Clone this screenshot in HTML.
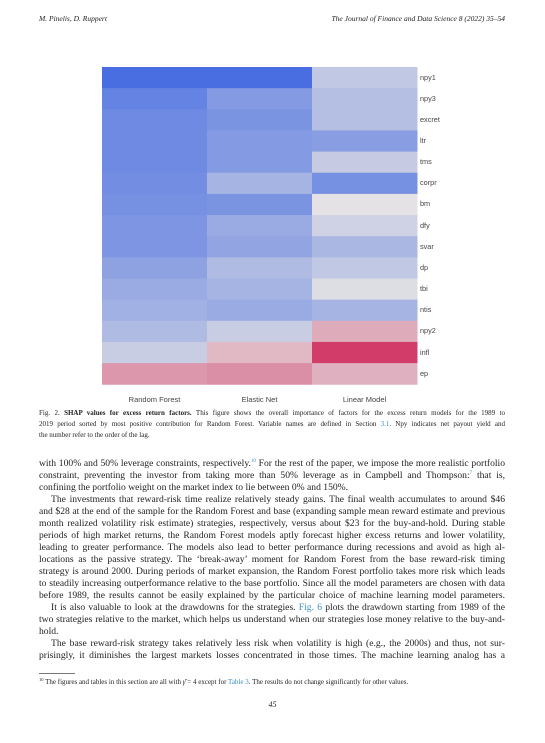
<!DOCTYPE html>
<html><head><meta charset="utf-8"><style>
body{margin:0;width:545px;height:743px;background:#fff;position:relative;font-family:"Liberation Serif",serif;color:#222;overflow:hidden}
.hd{position:absolute;top:14px;font-size:7.5px;font-style:italic}
.ln{position:absolute;left:39px;width:466px;font-size:9.6px;line-height:12px;white-space:nowrap;text-align:justify;text-align-last:justify}
.ln.last{text-align-last:left}
sup{line-height:0;vertical-align:baseline;position:relative;top:-4px}
.cap{position:absolute;left:39px;width:466px;font-size:7px;line-height:9px;white-space:nowrap;text-align:justify;text-align-last:justify}
.cap.last{text-align-last:left}
.lk{color:#3a8fc4}
.rl{position:absolute;left:420px;font-family:"Liberation Sans",sans-serif;font-size:7.3px;color:#444}
.cl{position:absolute;top:395px;font-family:"Liberation Sans",sans-serif;font-size:7.5px;color:#444;width:105px;text-align:center}
</style></head><body>
<div class="hd" style="left:39px">M. Pinelis, D. Ruppert</div>
<div class="hd" style="right:40px">The Journal of Finance and Data Science 8 (2022) 35–54</div>
<svg id="hm" width="545" height="400" style="position:absolute;left:0;top:0"></svg>
<div id="labels"></div>
<div class="cap" style="top:409px">Fig. 2. <b>SHAP values for excess return factors.</b> This figure shows the overall importance of factors for the excess return models for the 1989 to</div>
<div class="cap" style="top:420px">2019 period sorted by most positive contribution for Random Forest. Variable names are defined in Section <span class="lk">3.1</span>. Npy indicates net payout yield and</div>
<div class="cap last" style="top:431px">the number refer to the order of the lag.</div>
<div>
<div class="ln" style="top:458px">with 100% and 50% leverage constraints, respectively.<sup style="font-size:5px" class="lk">10</sup> For the rest of the paper, we impose the more realistic portfolio</div>
<div class="ln" style="top:470px">constraint, preventing the investor from taking more than 50% leverage as in Campbell and Thompson:<sup style="font-size:5px" class="lk">7</sup> that is,</div>
<div class="ln last" style="top:482px">confining the portfolio weight on the market index to lie between 0% and 150%.</div>
<div class="ln" style="top:494px;left:51px;width:454px">The investments that reward-risk time realize relatively steady gains. The final wealth accumulates to around $46</div>
<div class="ln" style="top:506px">and $28 at the end of the sample for the Random Forest and base (expanding sample mean reward estimate and previous</div>
<div class="ln" style="top:518px">month realized volatility risk estimate) strategies, respectively, versus about $23 for the buy-and-hold. During stable</div>
<div class="ln" style="top:530px">periods of high market returns, the Random Forest models aptly forecast higher excess returns and lower volatility,</div>
<div class="ln" style="top:542px">leading to greater performance. The models also lead to better performance during recessions and avoid as high al-</div>
<div class="ln" style="top:554px">locations as the passive strategy. The ‘break-away’ moment for Random Forest from the base reward-risk timing</div>
<div class="ln" style="top:566px">strategy is around 2000. During periods of market expansion, the Random Forest portfolio takes more risk which leads</div>
<div class="ln" style="top:578px">to steadily increasing outperformance relative to the base portfolio. Since all the model parameters are chosen with data</div>
<div class="ln" style="top:590px">before 1989, the results cannot be easily explained by the particular choice of machine learning model parameters.</div>
<div class="ln" style="top:602px;left:51px;width:454px">It is also valuable to look at the drawdowns for the strategies. <span class="lk">Fig. 6</span> plots the drawdown starting from 1989 of the</div>
<div class="ln" style="top:614px">two strategies relative to the market, which helps us understand when our strategies lose money relative to the buy-and-</div>
<div class="ln last" style="top:626px">hold.</div>
<div class="ln" style="top:638px;left:51px;width:454px">The base reward-risk strategy takes relatively less risk when volatility is high (e.g., the 2000s) and thus, not sur-</div>
<div class="ln" style="top:650px">prisingly, it diminishes the largest markets losses concentrated in those times. The machine learning analog has a</div>
</div>
<div style="position:absolute;left:39px;top:673px;width:36px;border-top:0.6px solid #777"></div>
<div class="cap last" style="top:678px;left:39px"><sup style="font-size:4.5px;top:-3px">10</sup> The figures and tables in this section are all with <i>γ̄</i> = 4 except for <span class="lk">Table 3</span>. The results do not change significantly for other values.</div>
<div style="position:absolute;top:700px;left:0;width:545px;text-align:center;font-size:8px;font-style:italic">45</div>
<script>
const factors=["npy1","npy3","excret","ltr","tms","corpr","bm","dfy","svar","dp","tbi","ntis","npy2","infl","ep"];
const models=["Random Forest","Elastic Net","Linear Model"];
const rfValues=[1.0,0.85,0.8,0.8,0.8,0.78,0.75,0.72,0.72,0.62,0.55,0.5,0.42,0.25,-0.45];
const enValues=[1.0,0.68,0.73,0.68,0.68,0.48,0.73,0.55,0.6,0.42,0.48,0.55,0.25,-0.25,-0.5];
const lmValues=[0.3,0.38,0.38,0.65,0.27,0.75,0.0,0.2,0.45,0.3,0.08,0.48,-0.33,-1.0,-0.3];
const series=[rfValues,enValues,lmValues];
const X0=102,W=105,Y0=67,H=21.15;
const xPos=i=>X0+i*W, yPos=j=>Y0+j*H;
function color(v){
  const mid=[228,226,228],hi=[72,110,225],lo=[210,60,104];
  let t=Math.min(1,Math.abs(v));
  if(v>=0) t=Math.pow(t,1.25);
  const e=v>=0?hi:lo;
  return "rgb("+mid.map((m,k)=>Math.round(m+(e[k]-m)*t)).join(",")+")";
}
const svg=document.getElementById('hm'),NS="http://www.w3.org/2000/svg";
series.forEach((vals,i)=>vals.forEach((v,j)=>{
  const r=document.createElementNS(NS,'rect');
  r.setAttribute('x',xPos(i));r.setAttribute('y',yPos(j));
  r.setAttribute('width',W+0.5);r.setAttribute('height',H+0.5);
  r.setAttribute('fill',color(v));
  
  
  svg.appendChild(r);
}));
const lab=document.getElementById('labels');
factors.forEach((f,j)=>{
  const d=document.createElement('div');d.className='rl';d.textContent=f;
  d.style.top=(yPos(j)+H/2-5)+'px';
  
  
  lab.appendChild(d);
});
models.forEach((m,i)=>{
  const d=document.createElement('div');d.className='cl';d.textContent=m;
  d.style.left=xPos(i)+'px';
  
  
  lab.appendChild(d);
});
</script>
</body></html>
